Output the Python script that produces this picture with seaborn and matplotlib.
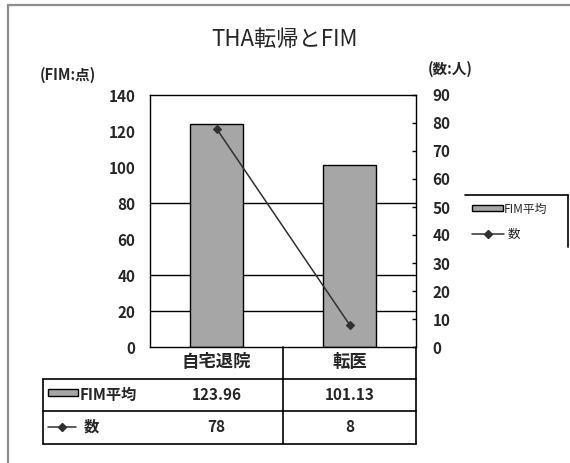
import matplotlib
matplotlib.use("Agg")
import matplotlib.pyplot as plt
from matplotlib.lines import Line2D
from matplotlib.patches import Rectangle
import seaborn as sns

# --- data -------------------------------------------------------------
categories = ["自宅退院", "転医"]
fim_mean = [123.96, 101.13]
patient_counts = [78, 8]
series_names = ["FIM平均", "数"]
fim_ticks = [0, 20, 40, 60, 80, 100, 120, 140]
count_ticks = [0, 10, 20, 30, 40, 50, 60, 70, 80, 90]
grid_levels = [20, 40, 80]

# --- style --------------------------------------------------------------
sns.set_theme(style="white")
plt.rcParams["font.family"] = ["Noto Sans CJK JP", "DejaVu Sans"]

W, H = 570, 463
BAR_COLOR = "#a6a6a6"
LINE_COLOR = "#303030"


def fx(px):
    return px / W


def fy(py):
    return 1 - py / H


fig = plt.figure(figsize=(W / 100, H / 100), dpi=100)
fig.patch.set_facecolor("white")

# plot area
L, R, T, B = 150, 416, 95, 347
ax = fig.add_axes([fx(L), fy(B), fx(R - L), (B - T) / H])

for lvl in grid_levels:
    ax.axhline(lvl, color="black", lw=1, zorder=0)

sns.barplot(x=categories, y=fim_mean, ax=ax, color=BAR_COLOR, saturation=1,
            width=0.4, edgecolor="black", linewidth=1, zorder=2)
ax.set_ylim(fim_ticks[0], fim_ticks[-1])
ax.set_yticks(fim_ticks)
ax.set_xlim(-0.5, len(categories) - 0.5)
ax.set_xlabel("")
ax.set_ylabel("")
ax.tick_params(axis="y", length=0, pad=10.5, labelsize=11)
for lab in ax.get_yticklabels():
    lab.set_fontweight("bold")
ax.set_xticks([0.5], labels=[""])
ax.tick_params(axis="x", direction="in", length=7, width=1, color="black")
for s in ax.spines.values():
    s.set_visible(True)
    s.set_color("black")
    s.set_linewidth(1)

# secondary axis: patient counts
ax2 = ax.twinx()
sns.pointplot(x=categories, y=patient_counts, ax=ax2, color=LINE_COLOR,
              markers="D", markersize=4, linewidth=1.1)
ax2.set_ylim(count_ticks[0], count_ticks[-1])
ax2.set_yticks(count_ticks)
ax2.set_xlim(-0.5, len(categories) - 0.5)
ax2.set_ylabel("")
ax2.set_xlabel("")
ax2.tick_params(axis="y", direction="in", length=3, width=1, color="black",
                pad=12, labelsize=11)
for lab in ax2.get_yticklabels():
    lab.set_fontweight("bold")
ax2.set_xticks([0.5], labels=[""])
ax2.tick_params(axis="x", direction="in", length=7, width=1)
for s in ax2.spines.values():
    s.set_visible(False)

# titles / axis units
fig.text(fx(285), fy(40), "THA転帰とFIM", ha="center", va="center", fontsize=16)
fig.text(fx(40), fy(75), "(FIM:点)", ha="left", va="center", fontsize=10.5,
         fontweight="bold")
fig.text(fx(428), fy(69), "(数:人)", ha="left", va="center", fontsize=10.5,
         fontweight="bold")

# --- data table ---------------------------------------------------------
tbl_left, row1, row2, tbl_bottom = 43, 379, 411, 444
line_kw = dict(color="black", lw=1.2, transform=fig.transFigure)
for yy in (row1, row2, tbl_bottom):
    fig.add_artist(Line2D([fx(tbl_left), fx(R)], [fy(yy), fy(yy)], **line_kw))
fig.add_artist(Line2D([fx(tbl_left), fx(tbl_left)], [fy(row1), fy(tbl_bottom)], **line_kw))
fig.add_artist(Line2D([fx((L + R) / 2), fx((L + R) / 2)], [fy(B), fy(tbl_bottom)], **line_kw))
fig.add_artist(Line2D([fx(R), fx(R)], [fy(B), fy(tbl_bottom)], **line_kw))

hdr_y, r1_y, r2_y = fy(362), fy(395), fy(427)
for i, cat in enumerate(categories):
    xc = ax.transData.transform((i, 0))[0] / W
    fig.text(xc, hdr_y, cat, ha="center", va="center", fontsize=12.5, fontweight="bold")
    fig.text(xc, r1_y, f"{fim_mean[i]:.2f}", ha="center", va="center", fontsize=11,
             fontweight="bold")
    fig.text(xc, r2_y, f"{patient_counts[i]}", ha="center", va="center", fontsize=11,
             fontweight="bold")

# row keys
fig.add_artist(Rectangle((fx(48), fy(396)), fx(30), 7 / H, facecolor=BAR_COLOR,
                         edgecolor="black", lw=1, transform=fig.transFigure))
fig.text(fx(80), r1_y, series_names[0], ha="left", va="center", fontsize=11,
         fontweight="bold")
fig.add_artist(Line2D([fx(48), fx(76)], [r2_y, r2_y], color=LINE_COLOR, lw=1.1,
                      transform=fig.transFigure))
fig.add_artist(Line2D([fx(62)], [r2_y], color=LINE_COLOR, marker="D", markersize=4,
                      lw=0, transform=fig.transFigure))
fig.text(fx(84), r2_y, series_names[1], ha="left", va="center", fontsize=11,
         fontweight="bold")

# --- legend ---------------------------------------------------------------
fig.add_artist(Line2D([fx(465), fx(568)], [fy(195), fy(195)], **line_kw))
fig.add_artist(Line2D([fx(568), fx(568)], [fy(195), fy(247)], **line_kw))
fig.add_artist(Rectangle((fx(472), fy(211)), fx(31), 6 / H, facecolor=BAR_COLOR,
                         edgecolor="black", lw=1, transform=fig.transFigure))
fig.text(fx(504), fy(209), series_names[0], ha="left", va="center", fontsize=8.5)
fig.add_artist(Line2D([fx(472), fx(504)], [fy(234), fy(234)], color=LINE_COLOR,
                      lw=1.1, transform=fig.transFigure))
fig.add_artist(Line2D([fx(488)], [fy(234)], color=LINE_COLOR, marker="D",
                      markersize=4, lw=0, transform=fig.transFigure))
fig.text(fx(508), fy(234), series_names[1], ha="left", va="center", fontsize=9)

# chart-area frame (top and left edges)
frame_kw = dict(color="#8c8c8c", lw=1.6, transform=fig.transFigure)
fig.add_artist(Line2D([fx(8), fx(570)], [fy(4.5), fy(4.5)], **frame_kw))
fig.add_artist(Line2D([fx(8), fx(8)], [fy(4.5), fy(463)], **frame_kw))

fig.savefig("out.png", dpi=100, facecolor="white")
